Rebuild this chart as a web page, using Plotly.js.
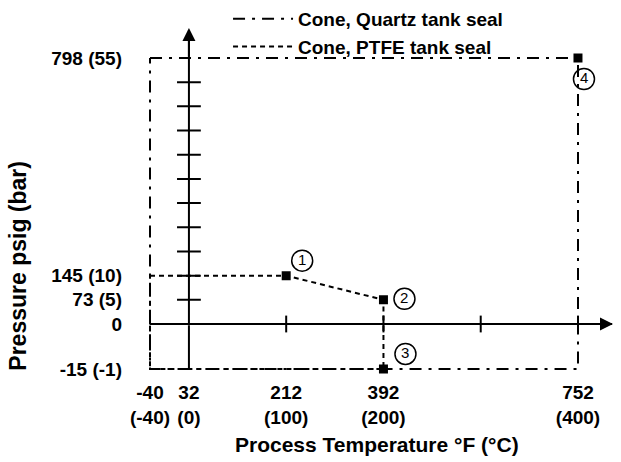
<!DOCTYPE html>
<html><head><meta charset="utf-8">
<script src="https://cdn.plot.ly/plotly-3.0.1.min.js"></script>
<style>html,body{margin:0;padding:0;background:#fff}#chart{width:621px;height:462px}</style>
</head><body><div id="chart"></div>
<script>
// Axis reference values: temperature °F / °C, pressure psig / bar
const tempF = [-40, 32, 212, 392, 752];
const tempC = [-40, 0, 100, 200, 400];
const pressPsig = [-15, 0, 73, 145, 798];
const pressBar = [-1, 0, 5, 10, 55];

// Series names
const seriesNames = ['Cone, Quartz tank seal', 'Cone, PTFE tank seal'];

// Operating envelopes (°C, bar)
const quartzTempC = [-40, 400, 400, -40, -40];
const quartzBar = [55, 55, -1, -1, 55];
const ptfeTempC = [-40, 100, 200, 200, -40, -40];
const ptfeBar = [10, 10, 5, -1, -1, 10];

// Numbered points
const pointLabels = ['1', '2', '3', '4'];
const pointTempC = [100, 200, 200, 400];
const pointBar = [10, 5, -1, 55];

// Tick marks drawn on the axis cross
const yTickBar = [5, 10, 15, 20, 25, 30, 35, 40, 45, 50];
const xTickC = [100, 200, 300, 400];

// ---------- layout constants ----------
const FONT = '"Liberation Sans", Arial, sans-serif';
const X_RANGE = [-57.5, 436];
const Y_RANGE = [-0.3, 61.2];      // upper part of broken pressure axis
const Y2_RANGE = [-1.097, -0.3];   // lower part (vacuum)
const SPLIT = 0.1428;
const AXIS_END_X = 435;
const AXIS_END_Y = 60.8;

const b = s => `<b>${s}</b>`;
const upperVals = pressBar.filter(v => v >= 0);
const upperText = pressBar.map((v, i) => b(v === 0 ? '0' : `${pressPsig[i]} (${v})`)).filter((t, i) => pressBar[i] >= 0);
const lowerVals = pressBar.filter(v => v < 0);
const lowerText = pressBar.map((v, i) => b(`${pressPsig[i]} (${v})`)).filter((t, i) => pressBar[i] < 0);
const xText = tempF.map((f, i) => b(`${f}<br>(${tempC[i]})`));

const traces = [];
['y', 'y2'].forEach((ya, k) => {
  traces.push({
    x: quartzTempC, y: quartzBar, yaxis: ya, xaxis: 'x', mode: 'lines',
    name: b(seriesNames[0]), showlegend: k === 0, legendrank: 1,
    line: {color: '#000', width: 2, dash: '12px,7px,3px,7px'}, hoverinfo: 'skip'
  });
  traces.push({
    x: ptfeTempC, y: ptfeBar, yaxis: ya, xaxis: 'x', mode: 'lines',
    name: b(seriesNames[1]), showlegend: k === 0, legendrank: 2,
    line: {color: '#000', width: 2, dash: '5px,4px'}, hoverinfo: 'skip'
  });
  // vertical axis line at 0 °C
  traces.push({
    x: [0, 0], y: [Math.min(...pressBar), AXIS_END_Y], yaxis: ya, xaxis: 'x', mode: 'lines',
    showlegend: false, line: {color: '#000', width: 2}, hoverinfo: 'skip'
  });
});
// horizontal axis line at 0 bar
traces.push({
  x: [Math.min(...tempC), AXIS_END_X], y: [0, 0], yaxis: 'y', xaxis: 'x', mode: 'lines',
  showlegend: false, line: {color: '#000', width: 2}, hoverinfo: 'skip'
});
// tick marks
traces.push({
  x: yTickBar.map(() => 0), y: yTickBar, yaxis: 'y', xaxis: 'x', mode: 'markers', showlegend: false,
  marker: {symbol: 'line-ew', size: 17, line: {color: '#000', width: 2}}, hoverinfo: 'skip'
});
traces.push({
  x: xTickC, y: xTickC.map(() => 0), yaxis: 'y', xaxis: 'x', mode: 'markers', showlegend: false,
  marker: {symbol: 'line-ns', size: 12, line: {color: '#000', width: 2}}, hoverinfo: 'skip', cliponaxis: false
});
// numbered points
['y', 'y2'].forEach((ya) => {
  const idx = pointBar.map((v, i) => i).filter(i => ya === 'y' ? pointBar[i] >= 0 : pointBar[i] < 0);
  traces.push({
    x: idx.map(i => pointTempC[i]), y: idx.map(i => pointBar[i]), yaxis: ya, xaxis: 'x',
    mode: 'markers', showlegend: false,
    marker: {symbol: 'square', size: 9, color: '#000'}, hoverinfo: 'skip'
  });
});

// circled labels offsets (pixels)
const off = [[16, 15], [21, 1], [22, 15], [6, -21]];
const R = 10.5;
const shapes = [];
const annotations = [];
pointLabels.forEach((lab, i) => {
  const ya = pointBar[i] >= 0 ? 'y' : 'y2';
  const [dx, dy] = off[i];
  shapes.push({
    type: 'circle', xref: 'x', yref: ya, xsizemode: 'pixel', ysizemode: 'pixel',
    xanchor: pointTempC[i], yanchor: pointBar[i],
    x0: dx - R, x1: dx + R, y0: dy - R, y1: dy + R,
    line: {color: '#000', width: 1.5}, fillcolor: 'rgba(0,0,0,0)', layer: 'above'
  });
  annotations.push({
    x: pointTempC[i], y: pointBar[i], xref: 'x', yref: ya, xshift: dx, yshift: dy + 1,
    text: lab, showarrow: false, font: {family: FONT, size: 15, color: '#000'},
    xanchor: 'center', yanchor: 'middle'
  });
});
// arrow heads
annotations.push({
  x: 0, y: AXIS_END_Y + 0.4, xref: 'x', yref: 'y', ax: 0, ay: 30, showarrow: true,
  arrowhead: 2, arrowsize: 1.3, arrowwidth: 2, arrowcolor: '#000', text: ''
});
annotations.push({
  x: AXIS_END_X + 1, y: 0, xref: 'x', yref: 'y', ax: -30, ay: 0, showarrow: true,
  arrowhead: 2, arrowsize: 1.3, arrowwidth: 2, arrowcolor: '#000', text: ''
});
// axis titles
annotations.push({
  text: b('Process Temperature °F (°C)'), xref: 'paper', yref: 'paper', x: 0.508, y: -0.199,
  xanchor: 'center', yanchor: 'middle', showarrow: false,
  font: {family: FONT, size: 21, color: '#000'}
});
annotations.push({
  text: b('Pressure psig (bar)'), xref: 'paper', yref: 'paper', x: -0.2396, y: 0.315,
  xanchor: 'center', yanchor: 'middle', showarrow: false, textangle: -90,
  font: {family: FONT, size: 23, color: '#000'}
});

const tickFont = {family: FONT, size: 19, color: '#000'};
const layout = {
  width: 621, height: 462,
  margin: {l: 133, r: 8, t: 28, b: 87, pad: 0, autoexpand: false},
  paper_bgcolor: '#fff', plot_bgcolor: '#fff',
  font: {family: FONT, color: '#000'},
  showlegend: true,
  legend: {
    xref: 'paper', yref: 'container', x: 0.198, y: 1.0, xanchor: 'left', yanchor: 'top',
    bgcolor: 'rgba(0,0,0,0)',
    font: {family: FONT, size: 19, color: '#000'}, itemwidth: 60,
    traceorder: 'normal', itemclick: false
  },
  xaxis: {
    range: X_RANGE, domain: [0, 1], anchor: 'y2', tickmode: 'array', tickvals: tempC, ticktext: xText,
    showgrid: false, zeroline: false, showline: false, ticks: '', tickfont: tickFont, ticklabelstandoff: 4,
    automargin: false
  },
  yaxis: {
    range: Y_RANGE, domain: [SPLIT, 1], anchor: 'x', tickmode: 'array', tickvals: upperVals, ticktext: upperText,
    showgrid: false, zeroline: false, showline: false, ticks: '', tickfont: tickFont, ticklabelstandoff: 10,
    automargin: false
  },
  yaxis2: {
    range: Y2_RANGE, domain: [0, SPLIT], anchor: 'x', tickmode: 'array', tickvals: lowerVals, ticktext: lowerText,
    showgrid: false, zeroline: false, showline: false, ticks: '', tickfont: tickFont, ticklabelstandoff: 10,
    automargin: false
  },
  shapes: shapes,
  annotations: annotations
};

Plotly.newPlot('chart', traces, layout, {staticPlot: true, displayModeBar: false});
</script>
</body></html>
